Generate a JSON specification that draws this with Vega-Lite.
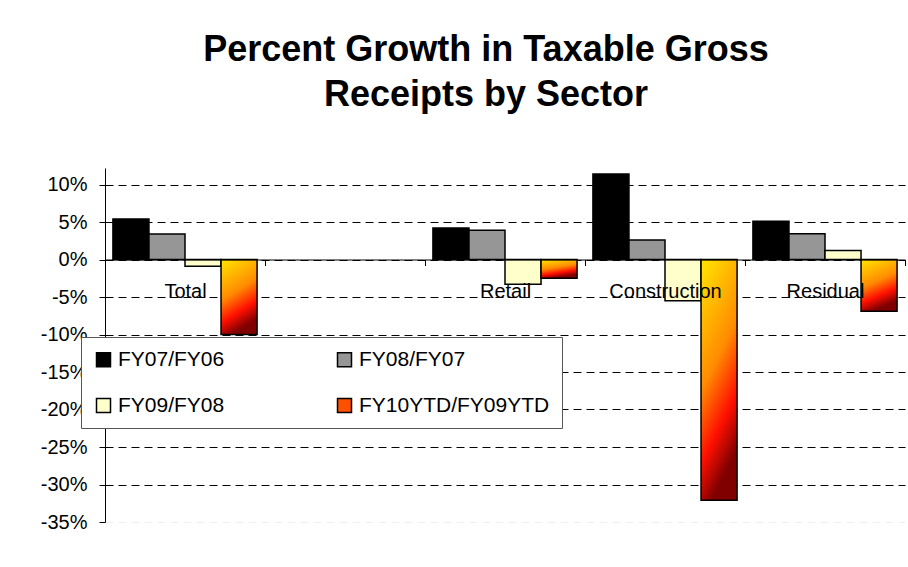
{
  "$schema": "https://vega.github.io/schema/vega-lite/v6.json",
  "width": 800,
  "height": 354,
  "autosize": {"type": "none"},
  "padding": {"left": 105, "top": 168, "right": 3, "bottom": 45},
  "background": "white",
  "config": {"font": "Liberation Sans", "view": {"stroke": null}},
  "title": {
    "text": ["Percent Growth in Taxable Gross", "Receipts by Sector"],
    "fontSize": 36,
    "fontWeight": "bold",
    "color": "black",
    "anchor": "middle",
    "dx": -19,
    "offset": 54,
    "lineHeight": 45
  },
  "data": {
    "values": [
      {"sector": "Total", "series": "FY07/FY06", "growth": 5.4},
      {"sector": "Total", "series": "FY08/FY07", "growth": 3.4},
      {"sector": "Total", "series": "FY09/FY08", "growth": -0.9},
      {"sector": "Total", "series": "FY10YTD/FY09YTD", "growth": -10.0},
      {"sector": "Retail", "series": "FY07/FY06", "growth": 4.2},
      {"sector": "Retail", "series": "FY08/FY07", "growth": 3.9},
      {"sector": "Retail", "series": "FY09/FY08", "growth": -3.3},
      {"sector": "Retail", "series": "FY10YTD/FY09YTD", "growth": -2.5},
      {"sector": "Construction", "series": "FY07/FY06", "growth": 11.4},
      {"sector": "Construction", "series": "FY08/FY07", "growth": 2.6},
      {"sector": "Construction", "series": "FY09/FY08", "growth": -5.5},
      {"sector": "Construction", "series": "FY10YTD/FY09YTD", "growth": -32.1},
      {"sector": "Residual", "series": "FY07/FY06", "growth": 5.1},
      {"sector": "Residual", "series": "FY08/FY07", "growth": 3.45},
      {"sector": "Residual", "series": "FY09/FY08", "growth": 1.2},
      {"sector": "Residual", "series": "FY10YTD/FY09YTD", "growth": -6.9}
    ]
  },
  "mark": {"type": "bar", "stroke": "black", "strokeWidth": 1.5},
  "encoding": {
    "x": {
      "field": "sector",
      "type": "nominal",
      "sort": null,
      "scale": {"domain": ["Total", "_", "Retail", "Construction", "Residual"], "paddingInner": 0, "paddingOuter": 0},
      "axis": {
        "title": null,
        "labelAngle": 0,
        "orient": "bottom",
        "offset": -262.5,
        "tickBand": "extent",
        "labelExpr": "datum.value === '_' ? '' : datum.value",
        "labelFontSize": 20,
        "labelColor": "black",
        "labelPadding": 16,
        "tickSize": 6,
        "tickColor": "black",
        "domainColor": "black",
        "zindex": 1,
        "grid": false
      }
    },
    "xOffset": {
      "field": "series",
      "type": "nominal",
      "sort": null,
      "scale": {"domain": ["FY07/FY06", "FY08/FY07", "FY09/FY08", "FY10YTD/FY09YTD"], "paddingInner": 0, "paddingOuter": 0.22}
    },
    "y": {
      "field": "growth",
      "type": "quantitative",
      "scale": {"domain": [-35, 12.2], "nice": false, "zero": false},
      "axis": {
        "title": null,
        "values": [10, 5, 0, -5, -10, -15, -20, -25, -30, -35],
        "labelExpr": "datum.value + '%'",
        "labelFontSize": 20,
        "labelColor": "black",
        "labelPadding": 12,
        "tickSize": 6,
        "tickColor": "black",
        "domainColor": "black",
        "gridColor": {"condition": {"test": "datum.value === -35", "value": "#eeeeee"}, "value": "#000000"},
        "gridDash": [8, 5],
        "gridWidth": 1
      }
    },
    "fill": {
      "condition": {
        "test": "datum.series === 'FY10YTD/FY09YTD'",
        "value": {
          "gradient": "linear",
          "x1": 0, "y1": 0, "x2": 0.3, "y2": 1,
          "stops": [
            {"offset": 0, "color": "#FFE600"},
            {"offset": 0.5, "color": "#FF8C00"},
            {"offset": 0.78, "color": "#FF1000"},
            {"offset": 1, "color": "#800000"}
          ]
        }
      },
      "field": "series",
      "type": "nominal",
      "sort": null,
      "scale": {
        "domain": ["FY07/FY06", "FY08/FY07", "FY09/FY08", "FY10YTD/FY09YTD"],
        "range": ["#000000", "#969696", "#FFFFCC", "#FF5000"]
      },
      "legend": {
        "title": null,
        "orient": "none",
        "direction": "horizontal",
        "legendX": -24,
        "legendY": 169,
        "columns": 2,
        "symbolType": "square",
        "symbolSize": 196,
        "symbolStrokeColor": "black",
        "symbolStrokeWidth": 1.5,
        "labelFontSize": 21,
        "labelColor": "black",
        "labelOffset": 4,
        "labelLimit": 300,
        "columnPadding": 109,
        "rowPadding": 24,
        "padding": 12,
        "strokeColor": "#555555",
        "fillColor": "white",
        "encode": {
          "symbols": {
            "update": {
              "stroke": {"value": "black"},
              "strokeWidth": {"value": 1.5}
            }
          }
        }
      }
    }
  }
}
